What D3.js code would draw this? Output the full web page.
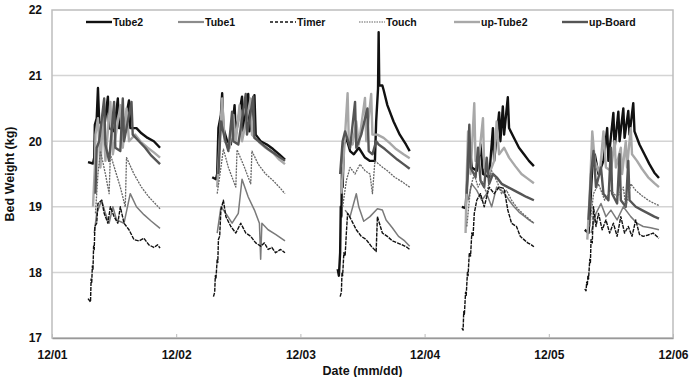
<!DOCTYPE html>
<html>
<head>
<meta charset="utf-8">
<script src="https://cdn.jsdelivr.net/npm/d3@7"></script>
<style>
  body { margin: 0; background: #fff; }
  svg { display: block; font-family: "Liberation Sans", Arial, sans-serif; font-weight: bold; }
</style>
</head>
<body>
<div id="chart"></div>
<script>
// day labels and y ticks
const dayLabels = ["12/01", "12/02", "12/03", "12/04", "12/05", "12/06"];
const yTicks = [17, 18, 19, 20, 21, 22];
const seriesNames = ["Tube2", "Tube1", "Timer", "Touch", "up-Tube2", "up-Board"];

// [day (1 = 12/01 00:00), weight kg]
const tube2 = [
  [1.29,19.68],[1.33,19.66],[1.34,19.75],[1.345,20.25],[1.36,20.35],[1.37,20.81],[1.38,20.3],[1.42,20.2],[1.45,20.68],[1.46,20.2],[1.50,20.15],[1.53,20.65],[1.54,20.2],[1.58,20.2],[1.62,20.62],[1.63,20.2],[1.68,20.2],[1.72,20.12],[1.77,20.05],[1.82,20.0],[1.87,19.9],
  [2.29,19.45],[2.32,19.42],[2.33,19.5],[2.34,20.2],[2.36,20.4],[2.37,20.73],[2.38,20.2],[2.41,20.0],[2.44,19.95],[2.47,20.55],[2.48,20.1],[2.53,20.68],[2.54,20.15],[2.58,20.72],[2.59,20.15],[2.63,20.7],[2.64,20.1],[2.68,20.0],[2.73,19.95],[2.78,19.88],[2.83,19.8],[2.876,19.72],
  [3.30,18.05],[3.31,17.95],[3.32,18.3],[3.325,19.0],[3.33,18.85],[3.335,19.6],[3.34,19.3],[3.35,19.95],[3.37,20.05],[3.40,19.85],[3.43,19.8],[3.47,19.9],[3.52,19.75],[3.56,19.7],[3.60,19.7],[3.61,20.3],[3.625,20.8],[3.63,21.66],[3.635,20.85],[3.66,20.85],[3.67,20.78],[3.70,20.55],[3.75,20.3],[3.80,20.1],[3.85,19.95],[3.88,19.85],
  [4.30,19.0],[4.33,18.98],[4.34,19.3],[4.36,20.0],[4.38,19.6],[4.42,19.55],[4.45,19.95],[4.47,19.5],[4.52,19.45],[4.55,20.2],[4.56,19.7],[4.60,20.44],[4.61,20.0],[4.63,20.53],[4.64,20.1],[4.67,20.67],[4.68,20.2],[4.72,20.05],[4.76,19.9],[4.80,19.8],[4.84,19.7],[4.88,19.62],
  [5.29,18.65],[5.32,18.6],[5.33,18.9],[5.35,19.6],[5.37,19.8],[5.40,19.5],[5.44,19.7],[5.47,20.2],[5.48,19.7],[5.52,20.43],[5.53,19.9],[5.56,20.45],[5.57,20.0],[5.60,20.5],[5.61,20.05],[5.64,20.46],[5.65,20.1],[5.68,20.58],[5.69,20.15],[5.73,19.95],[5.77,19.8],[5.81,19.65],[5.85,19.52],[5.887,19.44]
];
const tube1 = [
  [1.34,18.6],[1.36,18.9],[1.40,19.1],[1.43,18.9],[1.46,18.75],[1.49,19.0],[1.52,18.8],[1.58,18.75],[1.63,19.2],[1.68,19.0],[1.74,18.88],[1.80,18.78],[1.87,18.67],
  [2.33,18.6],[2.36,19.0],[2.40,18.9],[2.45,18.75],[2.50,18.9],[2.53,19.42],[2.58,19.15],[2.63,18.95],[2.67,18.75],[2.68,18.2],[2.69,18.75],[2.74,18.65],[2.80,18.58],[2.876,18.48],
  [3.36,18.95],[3.40,18.85],[3.45,19.2],[3.47,19.0],[3.51,18.78],[3.56,18.85],[3.62,18.97],[3.66,18.95],[3.69,18.8],[3.74,18.68],[3.79,18.55],[3.84,18.48],[3.88,18.4],
  [4.35,19.1],[4.38,19.35],[4.42,19.25],[4.46,19.1],[4.50,19.2],[4.54,19.0],[4.58,19.3],[4.62,19.25],[4.645,19.2],[4.68,19.1],[4.72,19.0],[4.76,18.92],[4.80,18.86],[4.84,18.8],[4.88,18.75],
  [5.34,18.6],[5.38,18.9],[5.42,19.05],[5.46,18.85],[5.50,18.95],[5.55,18.8],[5.60,19.0],[5.66,18.85],[5.71,18.75],[5.76,18.7],[5.82,18.68],[5.887,18.65]
];
const timer = [
  [1.29,17.6],[1.31,17.55],[1.315,17.9],[1.32,17.85],[1.325,18.1],[1.33,18.05],[1.335,18.4],[1.34,18.35],[1.345,18.7],[1.36,18.75],[1.37,19.05],[1.40,19.1],[1.42,18.9],[1.45,18.75],[1.47,19.0],[1.50,18.85],[1.53,18.75],[1.55,19.0],[1.58,18.75],[1.62,18.65],[1.66,18.5],[1.70,18.48],[1.74,18.52],[1.78,18.42],[1.82,18.38],[1.85,18.42],[1.87,18.37],
  [2.30,17.63],[2.31,17.7],[2.315,17.95],[2.32,17.9],[2.33,18.2],[2.335,18.15],[2.34,18.5],[2.35,18.55],[2.36,18.95],[2.38,19.1],[2.40,18.85],[2.44,18.7],[2.48,18.6],[2.52,18.75],[2.56,18.6],[2.60,18.55],[2.64,18.45],[2.68,18.4],[2.71,18.45],[2.74,18.35],[2.77,18.38],[2.80,18.3],[2.84,18.35],[2.876,18.3],
  [3.32,17.63],[3.33,17.7],[3.335,18.0],[3.34,17.95],[3.35,18.3],[3.36,18.25],[3.37,18.6],[3.38,18.9],[3.41,18.8],[3.45,18.65],[3.49,18.55],[3.53,18.5],[3.57,18.4],[3.61,18.32],[3.62,18.85],[3.66,18.6],[3.70,18.55],[3.74,18.48],[3.78,18.45],[3.82,18.42],[3.86,18.38],[3.88,18.35],
  [4.30,17.15],[4.31,17.12],[4.315,17.4],[4.32,17.35],[4.33,17.7],[4.335,17.65],[4.345,18.0],[4.35,17.95],[4.36,18.3],[4.37,18.25],[4.38,18.6],[4.39,18.55],[4.40,18.9],[4.42,19.1],[4.45,19.2],[4.48,19.0],[4.52,19.3],[4.56,19.2],[4.60,19.3],[4.64,19.28],[4.67,18.95],[4.70,18.75],[4.74,18.7],[4.77,18.55],[4.80,18.5],[4.83,18.45],[4.86,18.42],[4.88,18.39],
  [5.29,17.75],[5.30,17.72],[5.305,17.85],[5.31,17.8],[5.315,17.95],[5.32,17.9],[5.33,18.2],[5.335,18.15],[5.34,18.5],[5.35,18.45],[5.36,19.0],[5.38,18.7],[5.40,18.9],[5.43,18.65],[5.46,18.8],[5.49,18.6],[5.52,18.75],[5.55,18.55],[5.58,18.85],[5.61,18.6],[5.64,18.7],[5.67,18.55],[5.70,18.8],[5.73,18.58],[5.76,18.55],[5.80,18.57],[5.84,18.6],[5.887,18.52]
];
const touch = [
  [1.35,18.9],[1.37,19.5],[1.39,19.85],[1.43,19.5],[1.46,19.2],[1.47,19.8],[1.51,19.55],[1.55,19.3],[1.59,19.0],[1.60,19.75],[1.66,19.5],[1.72,19.3],[1.78,19.15],[1.83,19.05],[1.87,18.97],
  [2.33,19.2],[2.36,19.6],[2.38,19.88],[2.42,19.6],[2.46,19.4],[2.48,19.3],[2.49,19.87],[2.55,19.6],[2.60,19.35],[2.61,19.85],[2.66,19.65],[2.72,19.5],[2.78,19.4],[2.83,19.3],[2.876,19.2],
  [3.34,19.0],[3.37,19.4],[3.40,19.6],[3.44,19.5],[3.48,19.65],[3.52,19.55],[3.56,19.5],[3.58,19.2],[3.60,19.7],[3.65,19.62],[3.70,19.55],[3.76,19.45],[3.82,19.38],[3.88,19.3],
  [4.34,18.7],[4.37,19.3],[4.40,19.5],[4.43,19.3],[4.46,19.4],[4.50,19.2],[4.54,19.55],[4.58,19.4],[4.62,19.2],[4.66,19.25],[4.70,19.1],[4.75,18.97],[4.80,18.88],[4.85,18.8],[4.88,18.75],
  [5.33,18.7],[5.36,19.2],[5.40,19.35],[5.45,19.1],[5.50,19.25],[5.55,19.15],[5.60,19.3],[5.62,19.0],[5.66,19.35],[5.70,19.25],[5.75,19.17],[5.80,19.1],[5.85,19.05],[5.887,19.02]
];
const upTube2 = [
  [1.33,19.0],[1.345,19.6],[1.35,20.1],[1.37,20.35],[1.39,19.6],[1.41,20.4],[1.43,19.7],[1.47,20.6],[1.49,19.8],[1.55,20.55],[1.57,19.9],[1.60,20.5],[1.62,20.0],[1.67,20.1],[1.72,19.98],[1.77,19.9],[1.82,19.83],[1.87,19.75],
  [2.33,19.3],[2.35,20.0],[2.37,20.65],[2.39,20.0],[2.43,19.9],[2.46,20.4],[2.48,20.0],[2.51,20.55],[2.53,20.0],[2.60,20.65],[2.61,20.1],[2.67,19.98],[2.72,19.9],[2.78,19.82],[2.83,19.72],[2.876,19.65],
  [3.33,19.2],[3.35,19.8],[3.38,20.73],[3.39,20.0],[3.42,19.95],[3.45,20.3],[3.47,19.95],[3.52,20.66],[3.53,20.0],[3.57,20.72],[3.58,20.1],[3.62,20.1],[3.67,20.05],[3.72,19.97],[3.77,19.88],[3.83,19.8],[3.88,19.74],
  [4.33,18.6],[4.34,19.5],[4.35,20.15],[4.37,19.5],[4.40,20.58],[4.41,19.7],[4.44,19.8],[4.47,20.35],[4.48,19.6],[4.52,19.5],[4.56,19.7],[4.58,20.3],[4.60,19.8],[4.64,19.9],[4.68,19.75],[4.73,19.62],[4.78,19.5],[4.83,19.43],[4.88,19.36],
  [5.31,18.5],[5.33,19.2],[5.35,20.15],[5.37,19.7],[5.41,19.5],[5.44,20.15],[5.46,19.6],[5.50,19.55],[5.53,20.0],[5.54,19.6],[5.58,19.9],[5.59,19.5],[5.62,20.0],[5.63,19.6],[5.66,20.2],[5.67,19.8],[5.71,19.7],[5.75,19.58],[5.80,19.45],[5.85,19.36],[5.887,19.3]
];
const upBoard = [
  [1.35,19.2],[1.36,19.9],[1.38,20.0],[1.42,20.65],[1.43,19.95],[1.46,19.7],[1.50,20.6],[1.51,19.9],[1.55,19.85],[1.57,20.65],[1.58,20.0],[1.64,20.6],[1.65,20.1],[1.70,20.0],[1.75,19.9],[1.80,19.78],[1.87,19.65],
  [2.34,19.5],[2.36,20.3],[2.39,20.05],[2.42,19.85],[2.45,20.45],[2.46,20.0],[2.50,19.95],[2.56,20.72],[2.57,20.1],[2.62,20.68],[2.63,20.05],[2.69,19.96],[2.74,19.88],[2.80,19.8],[2.876,19.7],
  [3.32,19.5],[3.34,20.0],[3.36,20.15],[3.40,19.9],[3.44,20.6],[3.45,19.9],[3.49,20.1],[3.54,20.5],[3.55,19.85],[3.58,19.8],[3.61,20.0],[3.63,19.95],[3.68,19.88],[3.73,19.8],[3.78,19.72],[3.83,19.65],[3.88,19.58],
  [4.34,19.2],[4.36,20.25],[4.37,19.6],[4.41,19.45],[4.43,19.9],[4.45,19.4],[4.48,19.3],[4.50,19.75],[4.52,19.35],[4.55,19.5],[4.58,19.45],[4.62,19.35],[4.67,19.3],[4.72,19.25],[4.77,19.2],[4.82,19.15],[4.88,19.1],
  [5.32,18.8],[5.34,19.5],[5.36,19.85],[5.38,19.3],[5.42,19.6],[5.44,19.2],[5.48,19.1],[5.50,19.9],[5.51,19.2],[5.55,19.05],[5.57,19.8],[5.58,19.1],[5.62,19.0],[5.64,19.7],[5.65,19.1],[5.70,19.0],[5.75,18.95],[5.80,18.9],[5.85,18.85],[5.887,18.82]
];

const width = 691, height = 377;
const margin = { top: 10, right: 18, bottom: 39, left: 52 };

const x = d3.scaleLinear().domain([1, 6]).range([margin.left, width - margin.right]);
const y = d3.scaleLinear().domain([17, 22]).range([height - margin.bottom, margin.top]);

const svg = d3.select("#chart").append("svg")
    .attr("width", width).attr("height", height);

// grid
svg.append("g")
    .selectAll("line")
    .data(yTicks.slice(1, -1))
    .join("line")
    .attr("x1", x(1)).attr("x2", x(6))
    .attr("y1", d => y(d)).attr("y2", d => y(d))
    .attr("stroke", "#d4d4d4").attr("stroke-width", 1.5);

// frame
svg.append("rect")
    .attr("x", x(1)).attr("y", y(22))
    .attr("width", x(6) - x(1)).attr("height", y(17) - y(22))
    .attr("fill", "none").attr("stroke", "#bdbdbd").attr("stroke-width", 1.5);

// axes
const xAxis = svg.append("g")
    .attr("transform", `translate(0,${y(17)})`)
    .call(d3.axisBottom(x).tickValues([1, 2, 3, 4, 5, 6])
        .tickFormat((d, i) => dayLabels[i]).tickSizeInner(-4).tickSizeOuter(0).tickPadding(12));
xAxis.select(".domain").attr("stroke", "#999").attr("stroke-width", 1.5);
xAxis.selectAll(".tick line").attr("stroke", "#bbb");
xAxis.selectAll("text").attr("font-size", 12).attr("font-weight", "bold").attr("fill", "#111")
    .attr("font-family", "Liberation Sans, Arial, sans-serif");

const yAxis = svg.append("g")
    .attr("transform", `translate(${margin.left},0)`)
    .call(d3.axisLeft(y).tickValues(yTicks).tickFormat(d3.format("d")).tickSize(0).tickPadding(10));
yAxis.select(".domain").remove();
yAxis.selectAll("text").attr("font-size", 12).attr("font-weight", "bold").attr("fill", "#111")
    .attr("font-family", "Liberation Sans, Arial, sans-serif");

// titles
svg.append("text")
    .attr("transform", `translate(14,${(y(17) + y(22)) / 2}) rotate(-90)`)
    .attr("text-anchor", "middle").attr("font-size", 12.5).attr("fill", "#111")
    .text("Bed Weight (kg)");
svg.append("text")
    .attr("x", (x(1) + x(6)) / 2).attr("y", 375)
    .attr("text-anchor", "middle").attr("font-size", 12.5).attr("fill", "#111")
    .text("Date (mm/dd)");

// series styles
const series = [
  { name: "Tube2", data: tube2, color: "#111", width: 2.4, dash: null },
  { name: "Tube1", data: tube1, color: "#7a7a7a", width: 1.5, dash: null },
  { name: "up-Tube2", data: upTube2, color: "#a8a8a8", width: 2.4, dash: null },
  { name: "up-Board", data: upBoard, color: "#555", width: 2.4, dash: null },
  { name: "Touch", data: touch, color: "#666", width: 1.3, dash: "2,1" },
  { name: "Timer", data: timer, color: "#111", width: 1.4, dash: "4,1" }
];

function splitDays(pts) {
  const segs = [];
  let cur = [];
  pts.forEach((p, i) => {
    if (i > 0 && p[0] - pts[i - 1][0] > 0.3) { segs.push(cur); cur = []; }
    cur.push(p);
  });
  if (cur.length) segs.push(cur);
  return segs;
}

const line = d3.line().x(d => x(d[0])).y(d => y(d[1]));

series.forEach(s => {
  svg.append("g")
    .selectAll("path")
    .data(splitDays(s.data))
    .join("path")
    .attr("d", line)
    .attr("fill", "none")
    .attr("stroke", s.color)
    .attr("stroke-width", s.width)
    .attr("stroke-dasharray", s.dash)
    .attr("stroke-linejoin", "round");
});

// legend
const legendStyle = {
  "Tube2": { color: "#111", width: 2.4, dash: null },
  "Tube1": { color: "#8c8c8c", width: 2.2, dash: null },
  "Timer": { color: "#111", width: 1.6, dash: "3,2" },
  "Touch": { color: "#999", width: 1.3, dash: "1.5,1" },
  "up-Tube2": { color: "#a8a8a8", width: 2.4, dash: null },
  "up-Board": { color: "#555", width: 2.4, dash: null }
};
const legendX = [86, 178, 270, 359, 454, 562];
const legend = svg.append("g").attr("transform", "translate(0,22)");
seriesNames.forEach((n, i) => {
  const st = legendStyle[n];
  legend.append("line")
    .attr("x1", legendX[i]).attr("x2", legendX[i] + 26)
    .attr("y1", 0).attr("y2", 0)
    .attr("stroke", st.color).attr("stroke-width", st.width)
    .attr("stroke-dasharray", st.dash);
  legend.append("text")
    .attr("x", legendX[i] + 27).attr("y", 0).attr("dy", "0.35em")
    .attr("font-size", 10.5).attr("fill", "#111")
    .text(n);
});
</script>
</body>
</html>
